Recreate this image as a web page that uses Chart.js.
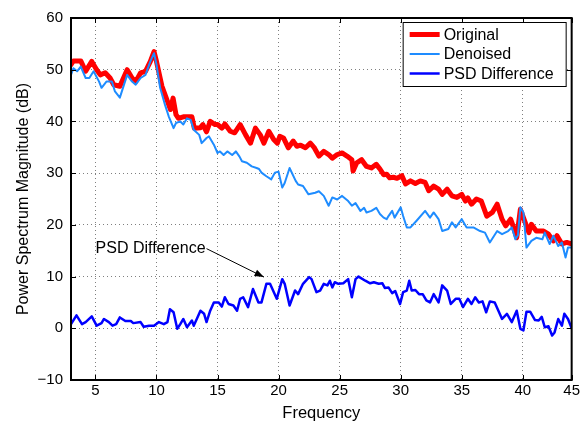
<!DOCTYPE html>
<html>
<head>
<meta charset="utf-8">
<script src="https://cdn.jsdelivr.net/npm/chart.js@4.4.1/dist/chart.umd.min.js"></script>
<style>
  html, body { margin: 0; padding: 0; background: #fff; }
  #wrap { width: 582px; height: 424px; }
</style>
</head>
<body>
<div id="wrap"><canvas id="grafico" width="582" height="424"></canvas></div>
<script>
// values
const origFreq = [3.0, 3.2, 3.8, 4.2, 4.7, 5.1, 5.4, 5.8, 6.2, 6.5, 7.0, 7.6, 8.0, 8.3, 8.7, 9.1, 9.5, 9.8, 10.0, 10.45,
  10.9, 11.15, 11.36, 11.6, 11.8, 12.2, 12.9, 13.1, 13.6, 13.8, 14.1, 14.4, 14.8, 15.0, 15.35, 15.6, 16.04, 16.4, 16.85, 17.3,
  17.7, 18.1, 18.5, 18.8, 19.2, 19.6, 19.9, 20.1, 20.4, 20.8, 21.2, 21.5, 21.8, 22.2, 22.6, 22.9, 23.3, 23.7, 24.1, 24.4,
  24.8, 25.2, 25.6, 26.0, 26.1, 26.4, 26.8, 27.2, 27.6, 28.0, 28.3, 28.6, 28.85, 29.1, 29.4, 29.7, 30.1, 30.4, 30.8, 31.2,
  31.6, 32.0, 32.3, 32.7, 33.1, 33.4, 33.8, 34.2, 34.6, 35.0, 35.3, 35.5, 35.8, 36.2, 36.6, 37.05, 37.5, 37.9, 38.3, 38.6,
  39.0, 39.2, 39.5, 39.8, 40.05, 40.5, 40.7, 41.1, 41.7, 42.1, 42.5, 42.8, 43.2, 43.6, 44.0];
const origDb = [51.0, 51.7, 51.7, 49.7, 51.6, 50.0, 49.0, 49.4, 48.4, 47.1, 46.8, 50.0, 48.4, 47.7, 49.4, 49.7, 51.6, 53.5, 51.6, 46.8,
  43.9, 42.3, 44.5, 41.3, 40.6, 40.9, 40.9, 38.7, 38.8, 39.4, 38.0, 40.0, 39.4, 39.4, 38.7, 39.5, 38.1, 37.8, 39.4, 37.4,
  35.8, 38.7, 37.4, 35.8, 38.1, 36.5, 35.8, 37.1, 36.8, 34.9, 36.2, 35.2, 35.4, 34.9, 35.8, 35.0, 33.3, 34.2, 33.6, 32.9,
  33.6, 33.9, 33.3, 32.6, 30.4, 32.0, 32.6, 31.3, 31.0, 31.7, 30.8, 29.7, 29.8, 29.1, 29.2, 29.0, 29.5, 27.9, 28.5, 28.0,
  28.5, 28.2, 26.6, 27.5, 26.9, 25.9, 26.9, 25.6, 25.3, 25.9, 24.6, 25.2, 24.0, 25.0, 24.6, 21.7, 22.4, 24.0, 21.1, 19.8,
  21.1, 19.8, 17.5, 23.0, 21.4, 18.5, 20.1, 18.8, 18.8, 18.2, 16.9, 17.9, 16.3, 16.6, 16.3];

const denFreq = [3.0, 3.2, 3.5, 3.8, 4.2, 4.5, 4.85, 5.3, 5.5, 5.9, 6.35, 6.6, 7.0, 7.6, 8.0, 8.3, 8.7, 9.1, 9.5, 9.8,
  10.0, 10.3, 10.7, 11.0, 11.4, 11.6, 11.95, 12.2, 12.5, 12.8, 13.05, 13.5, 13.7, 14.1, 14.3, 14.7, 15.0, 15.2, 15.5, 15.8,
  16.2, 16.5, 16.8, 17.0, 17.4, 17.8, 18.2, 18.4, 18.6, 19.0, 19.4, 19.7, 19.99, 20.3, 20.5, 20.9, 21.4, 21.6, 22.0, 22.45,
  23.0, 23.3, 23.7, 24.1, 24.4, 24.8, 25.2, 25.7, 26.0, 26.3, 26.7, 27.0, 27.2, 27.6, 28.0, 28.3, 28.6, 28.85, 29.0, 29.3,
  29.5, 30.0, 30.2, 30.5, 30.8, 31.3, 32.0, 32.4, 32.7, 33.1, 33.4, 33.9, 34.2, 34.5, 35.0, 35.4, 35.95, 36.5, 36.9, 37.3,
  37.9, 38.3, 38.8, 39.1, 39.4, 39.6, 39.8, 40.05, 40.3, 40.7, 41.1, 41.6, 41.8, 42.2, 42.5, 42.9, 43.2, 43.5, 43.7, 44.0];
const denDb = [49.0, 50.3, 49.7, 50.6, 48.4, 48.4, 49.7, 47.7, 46.5, 47.7, 47.7, 45.8, 44.6, 49.0, 47.7, 47.1, 48.4, 49.0, 51.6, 53.2,
  51.0, 46.5, 43.2, 41.0, 38.7, 39.7, 40.0, 39.4, 40.6, 40.3, 38.4, 37.4, 35.8, 36.8, 37.1, 35.5, 33.9, 34.2, 33.5, 34.2,
  33.5, 34.2, 33.2, 32.3, 32.0, 31.3, 31.0, 30.8, 30.1, 29.4, 28.8, 30.1, 30.3, 27.2, 28.1, 31.0, 28.5, 27.8, 27.5, 25.9,
  26.2, 26.5, 25.6, 23.7, 25.3, 24.9, 25.6, 24.6, 23.7, 24.2, 22.7, 23.3, 22.4, 22.7, 23.3, 22.1, 21.4, 21.1, 21.7, 22.7,
  21.4, 23.4, 21.7, 19.5, 19.5, 20.8, 22.7, 21.4, 22.4, 21.1, 18.8, 19.2, 20.5, 19.5, 21.1, 19.5, 19.5, 18.8, 18.5, 16.6,
  18.8, 18.2, 18.8, 19.5, 17.2, 18.0, 23.4, 22.4, 15.6, 16.9, 17.5, 17.2, 18.5, 16.3, 17.9, 15.9, 16.6, 13.7, 15.6, 15.6];

const diffFreq = [3.0, 3.45, 3.9, 4.2, 4.7, 5.1, 5.5, 5.7, 6.1, 6.4, 6.7, 7.0, 7.45, 7.9, 8.1, 8.7, 8.95, 9.4, 9.8, 10.2,
  10.6, 10.9, 11.1, 11.4, 11.7, 11.95, 12.2, 12.5, 12.9, 13.05, 13.3, 13.6, 13.9, 14.1, 14.4, 14.7, 15.1, 15.35, 15.6, 15.9,
  16.3, 16.6, 16.85, 17.1, 17.5, 17.9, 18.35, 18.6, 19.0, 19.3, 19.85, 20.3, 20.5, 20.9, 21.35, 21.6, 22.0, 22.5, 22.7, 23.1,
  23.4, 23.7, 24.0, 24.2, 24.4, 24.6, 24.9, 25.3, 25.7, 26.0, 26.3, 26.55, 27.1, 27.5, 27.8, 28.2, 28.5, 28.7, 29.0, 29.3,
  29.55, 29.95, 30.2, 30.5, 30.7, 30.9, 31.2, 31.5, 31.8, 32.1, 32.4, 32.7, 33.1, 33.4, 33.8, 34.1, 34.5, 34.8, 35.1, 35.5,
  35.8, 36.1, 36.4, 36.7, 37.0, 37.3, 37.7, 38.3, 38.7, 39.1, 39.5, 39.8, 40.05, 40.3, 40.6, 41.0, 41.3, 41.55, 41.8, 42.1,
  42.4, 42.6, 42.9, 43.2, 43.4, 43.7, 44.0];
const diffDb = [0.8, 2.5, 0.8, 1.2, 2.3, 0.5, 1.0, 1.8, 1.2, 0.5, 0.8, 2.1, 1.4, 1.4, 1.0, 1.2, 0.3, 0.5, 0.5, 1.2,
  0.8, 1.2, 3.7, 3.1, -0.1, 0.8, 1.8, 0.2, 1.5, 0.5, 1.8, 3.4, 2.8, 1.2, 3.4, 5.0, 5.0, 4.2, 6.0, 4.7,
  4.4, 3.4, 5.7, 6.0, 4.1, 7.6, 5.0, 5.0, 8.6, 8.6, 5.7, 9.5, 8.6, 4.4, 7.3, 6.6, 8.6, 9.9, 9.5, 7.0,
  7.3, 8.6, 8.3, 9.2, 7.9, 8.9, 8.6, 8.7, 9.5, 6.0, 9.5, 10.0, 9.2, 8.7, 8.9, 8.6, 8.7, 7.8, 7.9, 6.8,
  7.2, 4.7, 7.0, 7.3, 9.2, 7.3, 7.4, 6.6, 6.6, 5.4, 5.0, 6.6, 5.0, 8.3, 7.3, 4.7, 5.7, 5.7, 4.1, 5.7,
  4.7, 6.0, 5.0, 5.2, 3.1, 5.2, 5.0, 1.8, 2.8, 1.2, 3.4, -0.1, -0.4, 3.2, 3.2, 1.6, 1.5, 2.2, 0.2, 0.4,
  -1.4, -0.8, 1.8, 0.5, 2.8, 1.8, 0.0];

const seriesNames = ['Original', 'Denoised', 'PSD Difference'];
const xTickVals = [5, 10, 15, 20, 25, 30, 35, 40, 44];
const xTickLabels = ['5', '10', '15', '20', '25', '30', '35', '40', '45'];
const yTickVals = [-10, 0, 10, 20, 30, 40, 50, 60];

// the text + arrow pointing at the difference curve
const noteText = 'PSD Difference';
const noteFrom = [14.1, 15.4];
const noteTo = [18.8, 9.9];

const fnt = '"Liberation Sans", Arial, Helvetica, sans-serif';

function pares(f, v) {
    return f.map((x, i) => ({ x: x, y: v[i] }));
}

// box, inner tick marks, annotation
const moldura = {
    id: 'moldura',
    afterDatasetsDraw(chart) {
        let ctx = chart.ctx;
        let a = chart.chartArea;
        let sx = chart.scales.x;
        let sy = chart.scales.y;
        ctx.save();
        ctx.strokeStyle = '#000';
        ctx.lineWidth = 1;
        ctx.beginPath();
        for (let v of xTickVals) {
            let px = Math.round(sx.getPixelForValue(v)) + 0.5;
            ctx.moveTo(px, a.bottom); ctx.lineTo(px, a.bottom - 5);
            ctx.moveTo(px, a.top); ctx.lineTo(px, a.top + 5);
        }
        for (let v of yTickVals) {
            let py = Math.round(sy.getPixelForValue(v)) + 0.5;
            ctx.moveTo(a.left, py); ctx.lineTo(a.left + 5, py);
            ctx.moveTo(a.right, py); ctx.lineTo(a.right - 5, py);
        }
        ctx.stroke();
        ctx.lineWidth = 2;
        ctx.strokeRect(a.left, a.top, a.right - a.left, a.bottom - a.top);

        // annotation
        let x0 = sx.getPixelForValue(noteFrom[0]);
        let y0 = sy.getPixelForValue(noteFrom[1]);
        let x1 = sx.getPixelForValue(noteTo[0]);
        let y1 = sy.getPixelForValue(noteTo[1]);
        ctx.font = '16px ' + fnt;
        ctx.fillStyle = '#000';
        ctx.textAlign = 'right';
        ctx.textBaseline = 'middle';
        ctx.fillText(noteText, x0 - 1, y0);
        ctx.lineWidth = 1;
        ctx.beginPath();
        ctx.moveTo(x0, y0);
        ctx.lineTo(x1, y1);
        ctx.stroke();
        let ang = Math.atan2(y1 - y0, x1 - x0);
        ctx.beginPath();
        ctx.moveTo(x1, y1);
        ctx.lineTo(x1 - 10 * Math.cos(ang - 0.35), y1 - 10 * Math.sin(ang - 0.35));
        ctx.lineTo(x1 - 10 * Math.cos(ang + 0.35), y1 - 10 * Math.sin(ang + 0.35));
        ctx.closePath();
        ctx.fill();
        ctx.restore();
    },
    afterDraw(chart) {
        // legend box inside the plot, top right
        let ctx = chart.ctx;
        let a = chart.chartArea;
        let bx = a.right - 169, by = a.top + 4, bw = 163, bh = 64;
        ctx.save();
        ctx.fillStyle = '#fff';
        ctx.fillRect(bx, by, bw, bh);
        ctx.strokeStyle = '#000';
        ctx.lineWidth = 1;
        ctx.strokeRect(bx + 0.5, by + 0.5, bw, bh);
        ctx.font = '16px ' + fnt;
        ctx.textAlign = 'left';
        ctx.textBaseline = 'middle';
        chart.data.datasets.forEach((ds, i) => {
            let yy = by + 12.5 + i * 19.5;
            ctx.strokeStyle = ds.borderColor;
            ctx.lineWidth = ds.borderWidth;
            ctx.beginPath();
            ctx.moveTo(bx + 7, yy);
            ctx.lineTo(bx + 37, yy);
            ctx.stroke();
            ctx.fillStyle = '#000';
            ctx.fillText(ds.label, bx + 41, yy + 1);
        });
        ctx.restore();
    }
};

const config = {
    type: 'line',
    data: {
        datasets: [
            {
                label: seriesNames[0],
                data: pares(origFreq, origDb),
                borderColor: '#ff0000',
                borderWidth: 5,
                order: 3
            },
            {
                label: seriesNames[1],
                data: pares(denFreq, denDb),
                borderColor: '#1e8cff',
                borderWidth: 2,
                order: 2
            },
            {
                label: seriesNames[2],
                data: pares(diffFreq, diffDb),
                borderColor: '#0000ff',
                borderWidth: 2.5,
                order: 1
            }
        ]
    },
    options: {
        responsive: false,
        animation: false,
        events: [],
        layout: { padding: { top: 18, right: 10, left: 0, bottom: 0 } },
        elements: {
            point: { radius: 0 },
            line: { tension: 0, borderJoinStyle: 'round', borderCapStyle: 'round' }
        },
        plugins: {
            legend: { display: false },
            tooltip: { enabled: false }
        },
        scales: {
            x: {
                type: 'linear',
                min: 3,
                max: 44,
                afterFit(s) { s.height = 44; },
                afterBuildTicks(s) { s.ticks = xTickVals.map(v => ({ value: v })); },
                grid: { color: 'rgba(0,0,0,0.5)', lineWidth: 1, drawTicks: false },
                border: { display: false, dash: [1, 3] },
                ticks: {
                    padding: 2,
                    color: '#000',
                    font: { family: fnt, size: 15 },
                    maxRotation: 0,
                    autoSkip: false,
                    callback: (v) => xTickLabels[xTickVals.indexOf(v)]
                },
                title: {
                    display: true,
                    text: 'Frequency',
                    color: '#000',
                    font: { family: fnt, size: 16.5 },
                    padding: { top: 0, bottom: 1 }
                }
            },
            y: {
                min: -10,
                max: 60,
                afterFit(s) { s.width = 71; },
                afterBuildTicks(s) { s.ticks = yTickVals.map(v => ({ value: v })); },
                grid: { color: 'rgba(0,0,0,0.5)', lineWidth: 1, drawTicks: false },
                border: { display: false, dash: [1, 3] },
                ticks: {
                    padding: 8,
                    color: '#000',
                    font: { family: fnt, size: 15 },
                    callback: (v) => String(v).replace('-', '\u2212')
                },
                title: {
                    display: true,
                    text: 'Power Spectrum Magnitude (dB)',
                    color: '#000',
                    font: { family: fnt, size: 16 },
                    padding: { top: 14, bottom: 0 }
                }
            }
        }
    },
    plugins: [moldura]
};

const myChart = new Chart(document.getElementById('grafico'), config);
</script>
</body>
</html>
